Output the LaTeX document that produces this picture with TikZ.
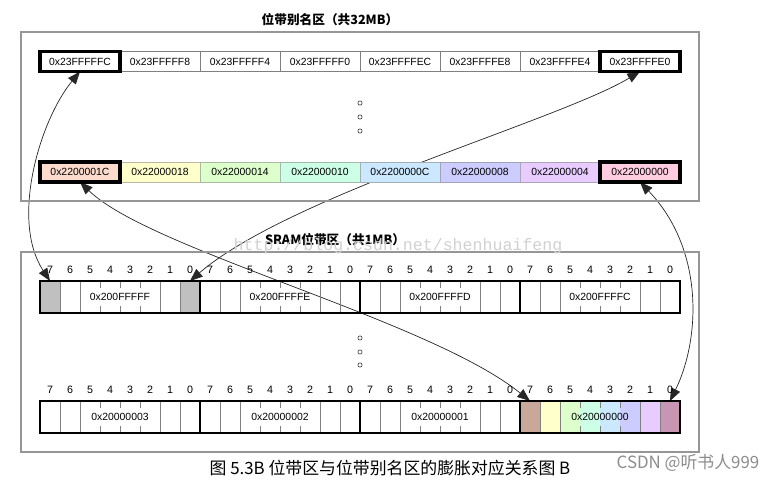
\documentclass[tikz,border=0pt]{standalone}
\usepackage{fontspec}
\setmainfont{Liberation Sans}
\newfontfamily\cjkfont{Noto Sans CJK SC}
\newfontfamily\markfont{Liberation Mono}
\usepackage{tikz}
\usetikzlibrary{
  positioning,
  arrows.meta
}
\pgfdeclarelayer{behind}
\pgfsetlayers{behind,main}

\definecolor{edgegray}{RGB}{128,128,128}
\definecolor{panelgray}{RGB}{150,150,150}
\definecolor{bitgray}{RGB}{192,192,192}
\definecolor{salmon}{RGB}{252,218,204}
\definecolor{lemon}{RGB}{255,255,204}
\definecolor{lime}{RGB}{221,255,204}
\definecolor{mint}{RGB}{204,255,230}
\definecolor{sky}{RGB}{204,232,255}
\definecolor{lavender}{RGB}{204,204,255}
\definecolor{lilac}{RGB}{232,204,255}
\definecolor{rose}{RGB}{255,204,224}
\definecolor{bittan}{RGB}{200,168,152}
\definecolor{bitmauve}{RGB}{200,150,178}

\tikzset{
  alias/.style={draw=edgegray, line width=0.6pt, minimum width=2cm, minimum height=0.5cm,
    inner sep=0pt, outer sep=0pt, font=\fontsize{7.4}{9}\selectfont},
  marked/.style={draw=black, line width=2.2pt},
  bitcell/.style={minimum width=0.5cm, minimum height=0.8cm, inner sep=0pt, outer sep=0pt},
  bytebox/.style={draw=black, line width=2pt, minimum width=4cm, minimum height=0.8cm,
    inner sep=0pt, outer sep=0pt, font=\fontsize{7.4}{9}\selectfont},
  bitnum/.style={inner sep=0pt, font=\fontsize{7.6}{9}\selectfont},
  divider/.style={draw=edgegray, line width=0.6pt},
  panel/.style={draw=panelgray, line width=0.8pt},
  link/.style={<->, >={Triangle[length=9pt,width=7pt]}, line width=0.5pt, draw=black!85},
  vdot/.style={circle, draw=black!70, line width=0.5pt, minimum size=3pt, inner sep=0pt},
  heading/.style={font=\cjkfont\bfseries\fontsize{9}{11}\selectfont}
}

\begin{document}
\begin{tikzpicture}[x=0.025cm,y=-0.025cm]
  \useasboundingbox (0,0) rectangle (779,481);

  % alias region
  \node[heading] (title-alias) at (330,20) {位带别名区（共32MB）};
  \draw[panel] (21,32) rectangle (699,201);
  \foreach \a [count=\i from 0] in {23FFFFFC,23FFFFF8,23FFFFF4,23FFFFF0,23FFFFEC,23FFFFE8,23FFFFE4,23FFFFE0}
    \node[alias] (atop-\i) at (80*\i+80,61.5) {0x\a};
  \foreach \a/\col [count=\i from 0] in {2200001C/salmon,22000018/lemon,22000014/lime,22000010/mint,2200000C/sky,22000008/lavender,22000004/lilac,22000000/rose}
    \node[alias, fill=\col, draw=\col!45!edgegray] (abot-\i) at (80*\i+80,172) {0x\a};
  \foreach \n in {atop-0,atop-7,abot-0,abot-7}
    \draw[marked] (\n.south west) rectangle (\n.north east);
  \foreach \y [count=\k] in {103,117,131}
    \node[vdot] (adot-\k) at (360,\y) {};

  % bit-band region
  \node[heading] (title-sram) at (335,240) {SRAM位带区（共1MB）};
  \draw[panel] (21,252) rectangle (699,452);
  \foreach \j in {0,...,3}
    \foreach \b in {0,...,7} {
      \node[bitcell] (hb-\j-\b) at (190+160*\j-20*\b,297) {};
      \node[bitnum] (hn-\j-\b) at (190+160*\j-20*\b,270) {\b};
      \node[bitcell] (lb-\j-\b) at (190+160*\j-20*\b,417) {};
      \node[bitnum] (ln-\j-\b) at (190+160*\j-20*\b,390) {\b};
    }
  \foreach \b in {7,0}
    \fill[bitgray] (hb-0-\b.south west) rectangle (hb-0-\b.north east);
  \foreach \b/\col in {7/bittan,6/lemon,5/lime,4/mint,3/sky,2/lavender,1/lilac,0/bitmauve}
    \fill[\col] (lb-3-\b.south west) rectangle (lb-3-\b.north east);
  \foreach \r in {hb,lb}
    \foreach \j in {0,...,3} {
      \foreach \b in {7,6,2,1}
        \draw[divider] (\r-\j-\b.north east) -- (\r-\j-\b.south east);
      \foreach \b in {5,4,3}
        \draw[divider] (\r-\j-\b.north east) -- ++(0,7) (\r-\j-\b.south east) -- ++(0,-7);
    }
  \foreach \a [count=\j from 0] in {200FFFFF,200FFFFE,200FFFFD,200FFFFC}
    \node[bytebox] (hbyte-\j) at (160*\j+120,297) {0x\a};
  \foreach \a [count=\j from 0] in {20000003,20000002,20000001,20000000}
    \node[bytebox] (lbyte-\j) at (160*\j+120,417) {0x\a};
  \foreach \y [count=\k] in {338,352,365}
    \node[vdot] (sdot-\k) at (360,\y) {};

  % mapping arrows
  \begin{pgfonlayer}{behind}
    \draw[link] (hb-0-7.north) .. controls (10,220) and (40,120) .. (atop-0.south);
    \draw[link] (hb-0-0.north) .. controls (290,195) and (560,120) .. (atop-7.south);
    \draw[link] (abot-0.south) .. controls (150,250) and (430,320) .. (lb-3-7.north);
    \draw[link] (abot-7.south) .. controls (705,250) and (700,340) .. (lb-3-0.north);
  \end{pgfonlayer}

  % caption and marks
  \node[font=\cjkfont\fontsize{12}{14}\selectfont] (caption) at (390,468) {图 5.3B 位带区与位带别名区的膨胀对应关系图 B};
  \node[font=\cjkfont\fontsize{12}{14}\selectfont, text=black!45] (csdn) at (688,463) {CSDN @听书人999};
  \node[font=\markfont\fontsize{11.8}{13}\selectfont, text=black!18] (url) at (398,246) {http://blog.csdn.net/shenhuaifeng};
\end{tikzpicture}
\end{document}
